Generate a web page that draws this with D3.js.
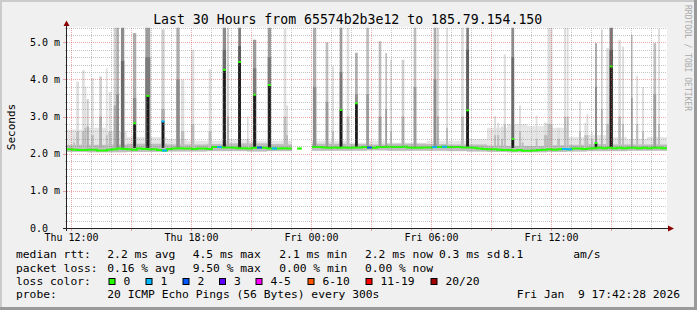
<!DOCTYPE html>
<html><head><meta charset="utf-8">
<script src="https://cdn.jsdelivr.net/npm/d3@7"></script>
<style>
html,body{margin:0;padding:0;background:#f0f0f0;}
svg{display:block;}
text{font-family:"DejaVu Sans Mono",monospace;white-space:pre;}
</style></head><body>
<svg id="chart" width="697" height="310"></svg>
<script>
// ---------------- DATA ----------------
const titleText = "Last 30 Hours from 65574b2b3e12 to 185.79.154.150";
const yAxisTitle = "Seconds";
const watermark = "RRDTOOL / TOBI OETIKER";
const windowStart = new Date(2026, 0, 8, 11, 48);
const windowEnd = new Date(2026, 0, 9, 17, 48);
const dayStart = new Date(2026, 0, 8, 0, 0);
const slotMinutes = 15;
const yTicksMs = [0, 1, 2, 3, 4, 5];

// median RTT (ms) per 15-minute slot, null = no data
const medianMs = [
2.12,2.11,2.10,2.10,2.11,2.11,2.09,2.09,2.11,2.12,
2.14,2.13,2.12,2.11,2.14,2.13,2.12,2.12,2.10,2.09,
2.13,2.14,2.15,2.14,2.14,2.13,2.14,2.14,2.13,2.18,
2.18,2.17,2.17,2.16,2.15,2.15,2.14,2.16,2.17,2.16,
2.14,2.14,2.14,2.15,2.14,null,2.14,null,null,2.18,
2.18,2.17,2.16,2.17,2.16,2.17,2.16,2.17,2.17,2.18,
2.17,2.16,2.18,2.18,2.19,2.18,2.18,2.19,2.17,2.16,
2.16,2.17,2.17,2.18,2.18,2.19,2.18,2.18,2.18,2.17,
2.17,2.16,2.14,2.13,2.12,2.12,2.11,2.10,2.10,2.09,
2.10,2.08,2.08,2.09,2.10,2.11,2.12,2.11,2.12,2.13,
2.12,2.14,2.14,2.13,2.14,2.15,2.16,2.15,2.16,2.15,
2.16,2.15,2.16,2.16,2.15,2.16,2.15,2.16,2.16,2.15];

// slots with packet loss and number of lost pings
const lossSlots = [19, 30, 38, 41, 60, 73, 75, 99, 100];
const lossPings = [1, 1, 2, 1, 2, 1, 1, 1, 1];

// hourly smoke envelope near the baseline (ms)
const hazeTopMs = [2.65,2.70,2.60,2.45,2.45,2.40,2.35,2.35,2.40,2.35,2.35,2.35,2.35,2.35,2.30,2.35,2.30,2.30,2.35,2.35,2.40,2.70,2.80,2.75,2.70,2.45,2.50,2.45,2.40,2.45];
const coreTopMs = [2.24,2.24,2.25,2.27,2.27,2.25,2.25,2.26,2.28,2.28,2.26,2.25,2.27,2.27,2.26,2.25,2.27,2.27,2.26,2.25,2.25,2.22,2.21,2.21,2.23,2.24,2.26,2.25,2.25,2.25];
const pingMinMs = [2.05,2.04,2.04,2.05,2.05,2.06,2.06,2.07,2.07,2.06,2.07,2.07,2.08,2.08,2.08,2.09,2.08,2.08,2.08,2.07,2.06,2.05,2.04,2.04,2.05,2.06,2.07,2.07,2.08,2.08];

// latency spikes: hour (since Thu 00:00), max ping, upper edge of dense smoke, pings involved, median if raised, duration
const spikeHour = [12.15,12.33,12.62,12.72,12.84,13.07,13.48,13.79,13.95,14.20,14.33,14.58,15.18,15.84,16.60,17.35,17.58,18.08,18.95,19.67,19.85,20.43,20.84,21.18,21.92,22.70,22.80,24.18,24.80,25.10,25.50,25.85,26.27,26.83,27.45,27.76,28.00,28.60,29.20,30.20,30.34,30.80,31.57,31.83,33.20,33.36,33.55,33.69,34.09,34.45,34.58,35.28,35.75,35.95,36.38,36.70,36.83,37.45,37.72,37.82,38.05,38.25,38.54,38.83,39.01,39.43,39.60,40.04,40.31,40.60,41.19,41.40];
const spikeMaxMs = [2.47,3.94,4.25,3.80,3.47,4.04,4.08,4.30,3.67,5.40,5.40,5.40,5.25,5.40,5.35,5.40,4.00,4.80,4.28,5.40,5.40,5.40,3.00,5.07,5.40,5.37,3.30,5.40,5.00,4.36,5.40,5.40,4.72,5.40,5.03,4.71,4.54,4.53,5.40,5.40,5.40,5.40,5.40,5.40,3.01,2.83,2.74,4.68,5.40,3.30,2.47,3.03,2.83,5.40,2.70,5.40,5.40,3.41,2.83,3.06,2.58,4.98,5.34,4.85,5.40,5.07,4.89,5.20,4.10,3.79,4.98,5.36];
const spikeMidMs = [2.30,2.60,2.60,2.70,2.74,2.50,3.00,2.50,2.60,3.30,3.60,4.50,3.50,4.60,3.20,4.00,2.60,2.80,2.60,4.80,3.00,4.90,2.40,4.30,4.60,3.00,2.50,3.80,3.40,2.60,4.20,3.00,3.60,3.60,3.00,3.20,2.60,3.00,3.80,4.00,3.00,2.70,3.00,4.80,2.50,2.50,2.40,2.80,4.60,2.60,2.30,2.40,2.50,2.80,2.40,3.00,3.00,2.60,2.50,2.50,2.40,3.80,3.20,2.80,4.80,3.00,2.80,3.50,2.80,2.60,3.60,2.80];
const spikeDepth = [1,1,1,1,2,1,2,1,1,2,4,6,4,5,2,4,1,1,1,6,2,7,1,5,5,1,1,4,3,1,5,1,4,3,3,3,1,2,3,4,2,1,1,7,1,1,1,1,6,1,1,1,1,1,1,1,1,1,1,1,1,4,2,1,7,1,1,3,1,1,3,1];
const spikeMedianMs = [null,null,null,null,null,null,null,null,null,null,null,null,2.82,3.56,2.87,null,null,null,null,4.26,null,4.47,null,3.59,3.85,null,null,null,null,null,3.18,null,3.36,null,null,null,null,null,null,null,null,null,null,3.17,null,null,null,null,2.40,null,null,null,null,null,null,null,null,null,null,null,null,2.29,null,null,4.35,null,null,null,null,null,null,null];
const spikeMinutes = [5,8,8,6,6,8,8,5,8,8,8,10,10,15,10,10,10,10,8,10,6,8,5,10,10,8,6,10,8,6,8,8,8,8,8,5,6,8,8,8,6,6,8,8,6,6,6,6,8,6,6,5,12,15,8,6,6,6,6,6,5,6,5,8,10,8,6,5,6,6,8,6];

// legend
const lossLabels = ["0","1","2","3","4-5","6-10","11-19","20/20"];
const lossColors = ["#26ff00","#00b8ff","#0059ff","#5e00ff","#ff00ff","#ff5500","#ff0000","#a10000"];
const rttLegend = ["2.2 ms avg","4.5 ms max","2.1 ms min","2.2 ms now","0.3 ms sd","8.1","am/s"];
const lossLegend = ["0.16 % avg","9.50 % max","0.00 % min","0.00 % now"];
const probeText = "20 ICMP Echo Pings (56 Bytes) every 300s";
const stampText = "Fri Jan  9 17:42:28 2026";

// ---------------- DRAW ----------------
const W = 697, H = 310;
const L = 67, R = 667, TOP = 27.5, BOT = 228;
const svg = d3.select("#chart");
const x = d3.scaleTime().domain([windowStart, windowEnd]).range([L, R]);
const y = d3.scaleLinear().domain([0, 5.4]).range([BOT, TOP]);
const tone = d3.scaleLinear().domain([1, 9]).range(["#dedede", "#5a5a5a"]).clamp(true);
const MIN = 60000;
const atHour = h => new Date(dayStart.getTime() + h * 3600000);
const slotStart = i => new Date(windowStart.getTime() + i * slotMinutes * MIN);
const lossOfSlot = i => { const k = lossSlots.indexOf(i); return k < 0 ? 0 : lossPings[k]; };
const lossColor = n => n === 0 ? lossColors[0] : n <= 3 ? lossColors[n] : n <= 5 ? lossColors[4] : n <= 10 ? lossColors[5] : n < 20 ? lossColors[6] : lossColors[7];

// background + frame
svg.append("rect").attr("width", W).attr("height", H).attr("fill", "#f0f0f0");
svg.append("rect").attr("x", 0).attr("y", 0).attr("width", W).attr("height", 2).attr("fill", "#cbcbcb");
svg.append("rect").attr("x", 0).attr("y", 0).attr("width", 2).attr("height", H).attr("fill", "#cbcbcb");
svg.append("rect").attr("x", 0).attr("y", H - 3).attr("width", W).attr("height", 3).attr("fill", "#9a9a9a");
svg.append("rect").attr("x", W - 3).attr("y", 0).attr("width", 3).attr("height", H).attr("fill", "#9a9a9a");

// canvas
svg.append("rect").attr("x", L).attr("y", TOP).attr("width", R - L).attr("height", BOT - TOP).attr("fill", "#ffffff");
svg.append("clipPath").attr("id", "clip").append("rect")
  .attr("x", L).attr("y", TOP).attr("width", R - L).attr("height", BOT - TOP);
const g = svg.append("g").attr("clip-path", "url(#clip)");

// baseline smoke
const slots = medianMs.map((v, i) => ({i, v, t0: slotStart(i), t1: slotStart(i + 1), h: Math.floor(i * slotMinutes / 60)}));
const isolated = k => slots[k].v !== null && (k === 0 || slots[k - 1].v === null) && (k === slots.length - 1 || slots[k + 1].v === null);
const live = slots.filter((s, k) => s.v !== null && !isolated(k));
g.append("g").selectAll("rect").data(live).join("rect")
  .attr("x", s => x(s.t0)).attr("width", s => x(s.t1) - x(s.t0))
  .attr("y", s => y(hazeTopMs[s.h])).attr("height", s => y(pingMinMs[s.h]) - y(hazeTopMs[s.h]))
  .attr("fill", "#e6e6e6");
g.append("g").selectAll("rect").data(live).join("rect")
  .attr("x", s => x(s.t0)).attr("width", s => x(s.t1) - x(s.t0))
  .attr("y", s => y(coreTopMs[s.h])).attr("height", s => y(pingMinMs[s.h]) - y(coreTopMs[s.h]))
  .attr("fill", "#bdbdbd");

// spikes
const spikes = spikeHour.map((h, i) => ({
  t: atHour(h), max: spikeMaxMs[i], mid: spikeMidMs[i], depth: spikeDepth[i],
  med: spikeMedianMs[i], dur: spikeMinutes[i]
}));
const spikeBase = 2.16;
const sx0 = s => x(new Date(s.t.getTime() - s.dur * MIN / 2));
const sx1 = s => x(new Date(s.t.getTime() + s.dur * MIN / 2));
g.append("g").selectAll("rect").data(spikes).join("rect")
  .attr("x", sx0).attr("width", s => sx1(s) - sx0(s))
  .attr("y", s => y(s.max)).attr("height", s => y(spikeBase) - y(s.max))
  .attr("fill", s => tone(s.depth));
g.append("g").selectAll("rect").data(spikes).join("rect")
  .attr("x", sx0).attr("width", s => sx1(s) - sx0(s))
  .attr("y", s => y(s.mid)).attr("height", s => y(spikeBase) - y(s.mid))
  .attr("fill", s => tone(s.depth + 2));
const raised = spikes.filter(s => s.med !== null);
g.append("g").selectAll("rect").data(raised).join("rect")
  .attr("x", s => x(s.t) - 1.3).attr("width", 2.6)
  .attr("y", s => y(s.med)).attr("height", s => y(spikeBase) - y(s.med))
  .attr("fill", "#1c1c1c");

// median line (step per slot)
const line = d3.line().defined(d => d.v !== null).x(d => x(d.t)).y(d => y(d.v));
const pts = [];
slots.forEach(s => { pts.push({t: s.t0, v: s.v}); pts.push({t: s.t1, v: s.v}); });
g.append("path").attr("d", line(pts)).attr("fill", "none")
  .attr("stroke", lossColors[0]).attr("stroke-width", 2);
// isolated slots drawn as a short mark
slots.filter((s, k) => isolated(k)).forEach(s =>
  g.append("rect").attr("x", x(s.t0) + 1.5).attr("width", 2).attr("y", y(s.v) - 1).attr("height", 2).attr("fill", lossColors[0]));
// loss-coloured pieces
lossSlots.forEach((si, k) => {
  const s = slots[si];
  g.append("path").attr("d", line([{t: s.t0, v: s.v}, {t: s.t1, v: s.v}]))
    .attr("fill", "none").attr("stroke", lossColor(lossPings[k])).attr("stroke-width", 2);
});
// median dots on raised spikes
g.append("g").selectAll("rect").data(raised).join("rect")
  .attr("x", s => x(s.t) - 1.5).attr("width", 3)
  .attr("y", s => y(s.med) - 1).attr("height", 2)
  .attr("fill", s => lossColor(lossOfSlot(Math.floor((s.t - windowStart) / (slotMinutes * MIN)))));

// grid
const gridMinor = "rgba(128,128,128,0.45)", gridMajor = "rgba(222,60,60,0.45)";
const hours = d3.timeHour.every(1).range(windowStart, windowEnd);
const grid = svg.append("g").attr("shape-rendering", "crispEdges");
hours.forEach(t => {
  const major = t.getHours() % 3 === 0;
  const xx = Math.round(x(t)) + 0.5;
  grid.append("line").attr("x1", xx).attr("x2", xx).attr("y1", TOP).attr("y2", BOT)
    .attr("stroke", major ? gridMajor : gridMinor).attr("stroke-dasharray", "1,1");
  grid.append("line").attr("x1", xx).attr("x2", xx).attr("y1", BOT).attr("y2", BOT + (major ? 3 : 2))
    .attr("stroke", major ? gridMajor : gridMinor);
});
const yMinor = d3.range(1, 28).map(k => k * 0.2);
yMinor.forEach(v => {
  const major = Math.abs(v - Math.round(v)) < 1e-6;
  const yy = Math.round(y(v)) + 0.5;
  grid.append("line").attr("x1", L).attr("x2", R).attr("y1", yy).attr("y2", yy)
    .attr("stroke", major ? gridMajor : gridMinor).attr("stroke-dasharray", "1,1");
  grid.append("line").attr("x1", L - (major ? 4 : 2)).attr("x2", L).attr("y1", yy).attr("y2", yy)
    .attr("stroke", major ? gridMajor : gridMinor);
});

// axes
svg.append("line").attr("x1", 63).attr("x2", 670).attr("y1", BOT + 0.5).attr("y2", BOT + 0.5)
  .attr("stroke", "#222").attr("shape-rendering", "crispEdges");
svg.append("line").attr("x1", L - 0.5).attr("x2", L - 0.5).attr("y1", 231).attr("y2", 25)
  .attr("stroke", "#222").attr("shape-rendering", "crispEdges");
svg.append("path").attr("d", "M668,225.5L674,228.5L668,231.5Z").attr("fill", "#8b0000");
svg.append("path").attr("d", "M63.5,26L66.5,20.5L69.5,26Z").attr("fill", "#8b0000");

// x labels
const xLabels = d3.timeHour.every(6).range(windowStart, windowEnd);
const fmt = d3.timeFormat("%a %H:%M");
svg.append("g").selectAll("text").data(xLabels).join("text")
  .attr("x", d => Math.round(x(d)) + 0.5).attr("y", 240.6)
  .attr("text-anchor", "middle").attr("font-size", 10).attr("fill", "#000")
  .text(fmt);

// y labels
svg.append("g").selectAll("text").data(yTicksMs).join("text")
  .attr("x", 30).attr("y", d => y(d) + 3.6)
  .attr("font-size", 10).attr("fill", "#000")
  .text(d => d === 0 ? "0.0" : d3.format(".1f")(d) + " m");

// y title
svg.append("text").attr("transform", "translate(15,127) rotate(-90)")
  .attr("text-anchor", "middle").attr("font-size", 11).attr("fill", "#000").text(yAxisTitle);

// title
svg.append("text").attr("x", 347.7).attr("y", 23.6).attr("text-anchor", "middle")
  .attr("font-size", 13.2).attr("fill", "#000").text(titleText);

// watermark
svg.append("text").attr("transform", "translate(685,5) rotate(90)")
  .attr("font-size", 8).attr("fill", "#aaaaaa").text(watermark);

// legend
const rows = [258, 271.7, 285, 298.3];
const lg = svg.append("g").attr("font-size", 11.3).attr("fill", "#000");
lg.append("text").attr("x", 16).attr("y", rows[0]).text("median rtt:");
[107.3, 192.7, 279.3, 365, 439, 503, 573.3].forEach((xx, k) =>
  lg.append("text").attr("x", xx).attr("y", rows[0]).text(rttLegend[k]));
lg.append("text").attr("x", 16).attr("y", rows[1]).text("packet loss:");
[107.3, 192.7, 279.3, 365].forEach((xx, k) =>
  lg.append("text").attr("x", xx).attr("y", rows[1]).text(lossLegend[k]));
lg.append("text").attr("x", 16).attr("y", rows[2]).text("loss color:");
const boxX = [108.5, 145.5, 182.5, 219, 255.5, 307.5, 365.5, 430.5];
boxX.forEach((bx, k) => {
  lg.append("rect").attr("x", bx + 0.5).attr("y", 278.5).attr("width", 6).attr("height", 6)
    .attr("fill", lossColors[k]).attr("stroke", "#000").attr("stroke-width", 1);
  lg.append("text").attr("x", bx + 15).attr("y", rows[2]).text(lossLabels[k]);
});
lg.append("text").attr("x", 16).attr("y", rows[3]).text("probe:");
lg.append("text").attr("x", 107.3).attr("y", rows[3]).text(probeText);
lg.append("text").attr("x", 680).attr("y", rows[3]).attr("text-anchor", "end").text(stampText);
</script></body></html>
